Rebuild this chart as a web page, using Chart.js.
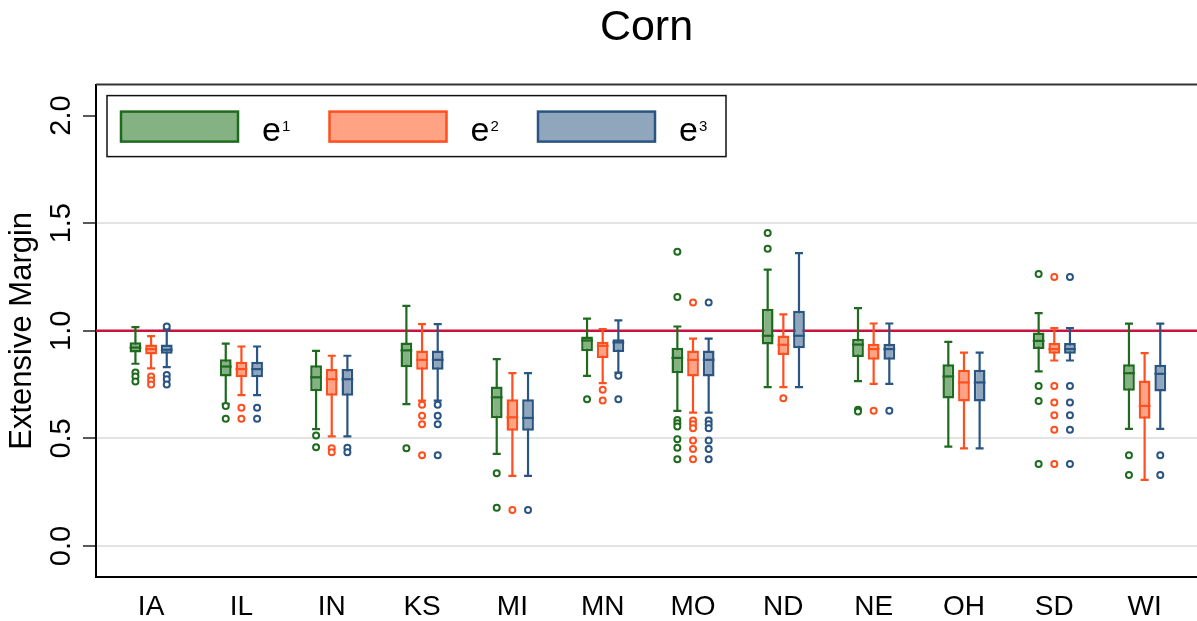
<!DOCTYPE html>
<html>
<head>
<meta charset="utf-8">
<script src="https://cdn.jsdelivr.net/npm/chart.js@4.4.0/dist/chart.umd.min.js"></script>
<style>
  html, body { margin: 0; padding: 0; background: #fff; }
  #marco { width: 1197px; height: 621px; }
</style>
</head>
<body>
<div id="marco"><canvas id="maiz"></canvas></div>
<script>
const estados = ['IA', 'IL', 'IN', 'KS', 'MI', 'MN', 'MO', 'ND', 'NE', 'OH', 'SD', 'WI'];
const marcasY = [0, 0.5, 1, 1.5, 2];
const lineaRef = 1.0;

// e1 (verde)
const e1_max = [1.017, 0.940, 0.907, 1.116, 0.868, 1.057, 1.020, 1.284, 1.105, 0.949, 1.082, 1.033];
const e1_q3  = [0.947, 0.868, 0.840, 0.946, 0.741, 0.974, 0.921, 1.102, 0.963, 0.845, 0.992, 0.845];
const e1_med = [0.922, 0.834, 0.784, 0.909, 0.691, 0.955, 0.874, 0.977, 0.936, 0.788, 0.953, 0.803];
const e1_q1  = [0.899, 0.788, 0.719, 0.831, 0.594, 0.905, 0.803, 0.936, 0.878, 0.685, 0.915, 0.721];
const e1_min = [0.847, 0.660, 0.543, 0.659, 0.428, 0.791, 0.628, 0.738, 0.766, 0.462, 0.811, 0.544];
const e1_atip = [[0.806, 0.788, 0.764], [0.651, 0.591], [0.513, 0.459], [0.454], [0.338, 0.178], [0.682],
  [1.367, 1.157, 0.586, 0.571, 0.555, 0.496, 0.457, 0.403], [1.454, 1.381], [0.633, 0.625], [],
  [1.264, 0.744, 0.674, 0.381], [0.422, 0.330]];

// e2 (naranja)
const e2_max = [0.975, 0.927, 0.884, 1.031, 0.803, 1.008, 0.964, 1.076, 1.034, 0.899, 1.012, 0.896];
const e2_q3  = [0.936, 0.856, 0.822, 0.909, 0.682, 0.949, 0.909, 0.978, 0.940, 0.819, 0.943, 0.769];
const e2_med = [0.915, 0.822, 0.775, 0.865, 0.598, 0.930, 0.865, 0.935, 0.915, 0.760, 0.915, 0.651];
const e2_q1  = [0.890, 0.784, 0.698, 0.819, 0.536, 0.874, 0.788, 0.888, 0.865, 0.671, 0.893, 0.591];
const e2_min = [0.825, 0.701, 0.509, 0.676, 0.326, 0.757, 0.620, 0.738, 0.753, 0.454, 0.862, 0.307];
const e2_atip = [[0.788, 0.769, 0.750], [0.643, 0.591], [0.454, 0.436], [0.656, 0.605, 0.566, 0.422], [0.167], [0.726, 0.676],
  [1.132, 0.583, 0.566, 0.547, 0.490, 0.451, 0.403], [0.687], [0.628], [],
  [1.250, 0.744, 0.667, 0.608, 0.540, 0.381], []];

// e3 (azul)
const e3_max = [1.005, 0.927, 0.884, 1.031, 0.803, 1.048, 0.964, 1.361, 1.034, 0.899, 1.012, 1.033];
const e3_q3  = [0.936, 0.856, 0.822, 0.909, 0.682, 0.961, 0.909, 1.093, 0.940, 0.819, 0.943, 0.842];
const e3_med = [0.912, 0.822, 0.775, 0.865, 0.595, 0.946, 0.865, 0.977, 0.915, 0.760, 0.915, 0.800];
const e3_q1  = [0.893, 0.784, 0.698, 0.819, 0.536, 0.902, 0.788, 0.919, 0.865, 0.671, 0.893, 0.718];
const e3_min = [0.831, 0.701, 0.509, 0.676, 0.326, 0.806, 0.620, 0.738, 0.753, 0.454, 0.862, 0.544];
const e3_atip = [[1.020, 0.795, 0.775, 0.750], [0.643, 0.591], [0.457, 0.436], [0.656, 0.605, 0.566, 0.422], [0.167], [0.791, 0.682],
  [1.132, 0.583, 0.566, 0.547, 0.490, 0.451, 0.403], [], [0.628], [],
  [1.250, 0.744, 0.667, 0.608, 0.540, 0.381], [0.422, 0.330]];

const fuente = "'Liberation Sans', Arial, Helvetica, sans-serif";

const series = [
  { label: 'e¹', sup: '1', lo: e1_min, q1: e1_q1, med: e1_med, q3: e1_q3, hi: e1_max, atip: e1_atip, borde: '#1E6A1E', relleno: '#84B283' },
  { label: 'e²', sup: '2', lo: e2_min, q1: e2_q1, med: e2_med, q3: e2_q3, hi: e2_max, atip: e2_atip, borde: '#FF4F1F', relleno: '#FFA384' },
  { label: 'e³', sup: '3', lo: e3_min, q1: e3_q1, med: e3_med, q3: e3_q3, hi: e3_max, atip: e3_atip, borde: '#2A5582', relleno: '#90A6BC' }
];

// caja = barra flotante de q1 a q3
function caja(q1, q3) {
  return q1.map((v, i) => ({ x: i, y: [v, q3[i]] }));
}

// bigotes, medianas, atipicos, marco y leyenda
const cajas = {
  id: 'cajas',
  beforeDatasetsDraw(chart) {
    const { ctx, chartArea: a, scales: { y } } = chart;
    ctx.save();
    const yr = y.getPixelForValue(lineaRef);
    ctx.strokeStyle = '#C8143C';
    ctx.lineWidth = 2.5;
    ctx.beginPath();
    ctx.moveTo(a.left, yr);
    ctx.lineTo(a.right, yr);
    ctx.stroke();

    ctx.lineWidth = 2.2;
    series.forEach((s, d) => {
      ctx.strokeStyle = s.borde;
      chart.getDatasetMeta(d).data.forEach((bar, i) => {
        const x = bar.x;
        const yHi = y.getPixelForValue(s.hi[i]);
        const yLo = y.getPixelForValue(s.lo[i]);
        ctx.beginPath();
        ctx.moveTo(x, yHi); ctx.lineTo(x, yLo);
        ctx.moveTo(x - 4, yHi); ctx.lineTo(x + 4, yHi);
        ctx.moveTo(x - 4, yLo); ctx.lineTo(x + 4, yLo);
        ctx.stroke();
      });
    });
    ctx.restore();
  },
  afterDatasetsDraw(chart) {
    const { ctx, scales: { y } } = chart;
    ctx.save();
    series.forEach((s, d) => {
      ctx.strokeStyle = s.borde;
      chart.getDatasetMeta(d).data.forEach((bar, i) => {
        const x = bar.x;
        const w = bar.width / 2;
        const ym = y.getPixelForValue(s.med[i]);
        ctx.lineWidth = 2.2;
        ctx.beginPath();
        ctx.moveTo(x - w, ym); ctx.lineTo(x + w, ym);
        ctx.stroke();
        ctx.lineWidth = 2;
        s.atip[i].forEach(v => {
          ctx.beginPath();
          ctx.arc(x, y.getPixelForValue(v), 3, 0, Math.PI * 2);
          ctx.fillStyle = '#fff';
          ctx.fill();
          ctx.stroke();
        });
      });
    });
    ctx.restore();
  },
  afterDraw(chart) {
    const { ctx, chartArea: a } = chart;
    ctx.save();
    // linea superior del marco
    ctx.strokeStyle = '#333';
    ctx.lineWidth = 2;
    ctx.beginPath();
    ctx.moveTo(a.left, a.top);
    ctx.lineTo(chart.width, a.top);
    ctx.stroke();

    // leyenda dentro del area
    const lx = a.left + 11, ly = a.top + 11;
    ctx.fillStyle = '#fff';
    ctx.fillRect(lx, ly, 619, 61);
    ctx.strokeStyle = '#111';
    ctx.lineWidth = 1.5;
    ctx.strokeRect(lx, ly, 619, 61);
    series.forEach((s, k) => {
      const sx = lx + 14 + k * 208.5;
      ctx.fillStyle = s.relleno;
      ctx.fillRect(sx, ly + 16, 117, 30);
      ctx.strokeStyle = s.borde;
      ctx.lineWidth = 2.5;
      ctx.strokeRect(sx, ly + 16, 117, 30);
      ctx.fillStyle = '#000';
      ctx.textBaseline = 'alphabetic';
      ctx.textAlign = 'left';
      ctx.font = '34px ' + fuente;
      ctx.fillText('e', sx + 141, ly + 45);
      const ew = ctx.measureText('e').width;
      ctx.font = '15px ' + fuente;
      ctx.fillText(s.sup, sx + 141 + ew + 1, ly + 35);
    });
    ctx.restore();
  }
};

const ctx = document.getElementById('maiz').getContext('2d');
new Chart(ctx, {
  type: 'bar',
  data: {
    datasets: series.map(s => ({
      label: s.label,
      data: caja(s.q1, s.q3),
      backgroundColor: s.relleno,
      borderColor: s.borde,
      borderWidth: 2.5,
      borderSkipped: false,
      categoryPercentage: 0.52,
      barPercentage: 0.75
    }))
  },
  options: {
    responsive: true,
    maintainAspectRatio: false,
    devicePixelRatio: 1,
    animation: false,
    layout: { padding: 0 },
    plugins: {
      legend: { display: false },
      tooltip: { enabled: false },
      title: {
        display: true,
        text: 'Corn',
        fullSize: false,
        color: '#000',
        font: { family: fuente, size: 43, weight: 'normal' },
        padding: { top: 2, bottom: 31 }
      }
    },
    scales: {
      x: {
        type: 'linear',
        min: -0.61,
        max: 11.58,
        offset: false,
        bounds: 'data',
        afterBuildTicks: axis => { axis.ticks = estados.map((e, i) => ({ value: i })); },
        afterFit: scale => { scale.height = 44; },
        grid: { display: true, offset: false, drawOnChartArea: false, drawTicks: false },
        border: { display: true, color: '#000', width: 2 },
        ticks: {
          color: '#000',
          font: { family: fuente, size: 28 },
          padding: 13,
          maxRotation: 0,
          callback: v => estados[v]
        }
      },
      y: {
        min: -0.144,
        max: 2.144,
        afterBuildTicks: axis => { axis.ticks = marcasY.map(v => ({ value: v })); },
        afterFit: scale => { scale.width = 96; },
        grid: {
          color: c => (c.tick && c.tick.value === 2) ? 'rgba(0,0,0,0)' : '#E3E3E3',
          lineWidth: 2,
          tickColor: '#222',
          tickLength: 13,
          tickWidth: 1.5
        },
        border: { display: true, color: '#000', width: 2 },
        ticks: {
          color: '#000',
          font: { family: fuente, size: 29 },
          minRotation: 90,
          maxRotation: 90,
          crossAlign: 'center',
          padding: 1,
          callback: v => v.toFixed(1)
        },
        title: {
          display: true,
          text: 'Extensive Margin',
          color: '#000',
          font: { family: fuente, size: 31 },
          padding: { top: 4, bottom: 0 }
        }
      }
    }
  },
  plugins: [cajas]
});
</script>
</body>
</html>
